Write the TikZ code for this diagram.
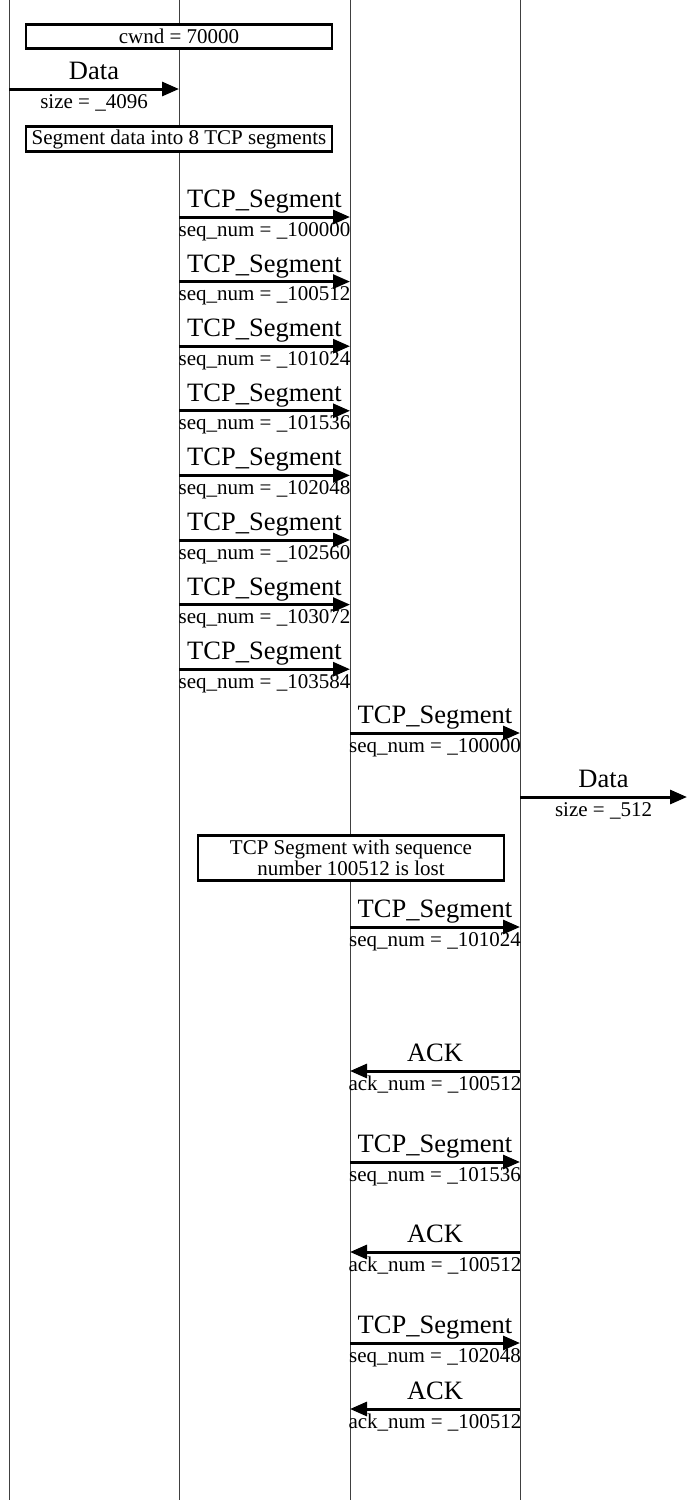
\documentclass[tikz,border=0pt]{standalone}
\usepackage{fontspec}
\setmainfont{Liberation Serif}
\usetikzlibrary{arrows.meta}

\begin{document}
\begin{tikzpicture}[x=1pt, y=-1pt,
  lifeline/.style={black!75, line width=0.9pt},
  msg/.style={line width=3pt, -{Triangle[length=17pt,width=14pt]}},
  toplab/.style={anchor=base, yshift=9.5pt, inner sep=0pt, font=\fontsize{26.5}{28}\selectfont},
  botlab/.style={anchor=base, yshift=-19pt, inner sep=0pt, font=\fontsize{21}{22}\selectfont},
  note/.style={draw, fill=white, line width=2.6pt, minimum width=306pt, inner sep=0pt, align=center, font=\fontsize{21}{21}\selectfont}]
  \useasboundingbox (0,0) rectangle (687,1500);
  % lifelines
  \coordinate (appT) at (9,0);     \coordinate (appB) at (9,1500);
  \coordinate (sndT) at (179,0);   \coordinate (sndB) at (179,1500);
  \coordinate (netT) at (350,0);   \coordinate (netB) at (350,1500);
  \coordinate (rcvT) at (520,0);   \coordinate (rcvB) at (520,1500);
  \draw[lifeline] (appT) -- (appB);
  \draw[lifeline] (sndT) -- (sndB);
  \draw[lifeline] (netT) -- (netB);
  \draw[lifeline] (rcvT) -- (rcvB);
  % sender side
  \node[note, minimum height=24pt] (cwnd) at (179,36.5) {cwnd = 70000};
  \coordinate (d0a) at (9,89); \coordinate (d0b) at (179,89);
  \draw[msg] (d0a) -- node[toplab] (d0t) {Data} node[botlab] (d0s) {size = \_4096} (d0b);
  \node[note, minimum height=25pt] (split) at (179,139) {Segment data into 8 TCP segments};
  % segments to the network
  \coordinate (s1a) at (179,217);   \coordinate (s1b) at (350,217);
  \coordinate (s2a) at (179,281.6); \coordinate (s2b) at (350,281.6);
  \coordinate (s3a) at (179,346.2); \coordinate (s3b) at (350,346.2);
  \coordinate (s4a) at (179,410.8); \coordinate (s4b) at (350,410.8);
  \coordinate (s5a) at (179,475.4); \coordinate (s5b) at (350,475.4);
  \coordinate (s6a) at (179,540);   \coordinate (s6b) at (350,540);
  \coordinate (s7a) at (179,604.6); \coordinate (s7b) at (350,604.6);
  \coordinate (s8a) at (179,669.2); \coordinate (s8b) at (350,669.2);
  \draw[msg] (s1a) -- node[toplab] (s1t) {TCP\_Segment} node[botlab] (s1s) {seq\_num = \_100000} (s1b);
  \draw[msg] (s2a) -- node[toplab] (s2t) {TCP\_Segment} node[botlab] (s2s) {seq\_num = \_100512} (s2b);
  \draw[msg] (s3a) -- node[toplab] (s3t) {TCP\_Segment} node[botlab] (s3s) {seq\_num = \_101024} (s3b);
  \draw[msg] (s4a) -- node[toplab] (s4t) {TCP\_Segment} node[botlab] (s4s) {seq\_num = \_101536} (s4b);
  \draw[msg] (s5a) -- node[toplab] (s5t) {TCP\_Segment} node[botlab] (s5s) {seq\_num = \_102048} (s5b);
  \draw[msg] (s6a) -- node[toplab] (s6t) {TCP\_Segment} node[botlab] (s6s) {seq\_num = \_102560} (s6b);
  \draw[msg] (s7a) -- node[toplab] (s7t) {TCP\_Segment} node[botlab] (s7s) {seq\_num = \_103072} (s7b);
  \draw[msg] (s8a) -- node[toplab] (s8t) {TCP\_Segment} node[botlab] (s8s) {seq\_num = \_103584} (s8b);
  % network to receiver
  \coordinate (r1a) at (350,733); \coordinate (r1b) at (520,733);
  \draw[msg] (r1a) -- node[toplab] (r1t) {TCP\_Segment} node[botlab] (r1s) {seq\_num = \_100000} (r1b);
  \coordinate (d1a) at (520,797); \coordinate (d1b) at (687,797);
  \draw[msg] (d1a) -- node[toplab] (d1t) {Data} node[botlab] (d1s) {size = \_512} (d1b);
  \node[note, minimum height=45pt] (lost) at (351,858) {TCP Segment with sequence\\number 100512 is lost};
  \coordinate (r2a) at (350,927); \coordinate (r2b) at (520,927);
  \draw[msg] (r2a) -- node[toplab] (r2t) {TCP\_Segment} node[botlab] (r2s) {seq\_num = \_101024} (r2b);
  \coordinate (k1a) at (520,1071); \coordinate (k1b) at (350,1071);
  \draw[msg] (k1a) -- node[toplab] (k1t) {ACK} node[botlab] (k1s) {ack\_num = \_100512} (k1b);
  \coordinate (r3a) at (350,1162); \coordinate (r3b) at (520,1162);
  \draw[msg] (r3a) -- node[toplab] (r3t) {TCP\_Segment} node[botlab] (r3s) {seq\_num = \_101536} (r3b);
  \coordinate (k2a) at (520,1252); \coordinate (k2b) at (350,1252);
  \draw[msg] (k2a) -- node[toplab] (k2t) {ACK} node[botlab] (k2s) {ack\_num = \_100512} (k2b);
  \coordinate (r4a) at (350,1343); \coordinate (r4b) at (520,1343);
  \draw[msg] (r4a) -- node[toplab] (r4t) {TCP\_Segment} node[botlab] (r4s) {seq\_num = \_102048} (r4b);
  \coordinate (k3a) at (520,1409); \coordinate (k3b) at (350,1409);
  \draw[msg] (k3a) -- node[toplab] (k3t) {ACK} node[botlab] (k3s) {ack\_num = \_100512} (k3b);
\end{tikzpicture}
\end{document}
